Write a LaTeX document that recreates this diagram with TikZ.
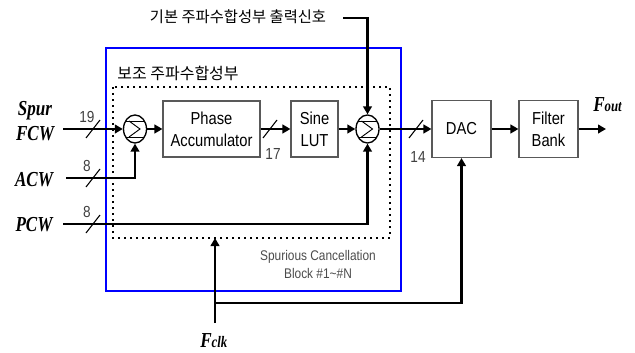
\documentclass[tikz,border=0pt]{standalone}
\usepackage{fontspec}
\setmainfont{Liberation Sans}
\newfontfamily\kofont{Noto Sans CJK KR}
\newfontfamily\narrowsf[FakeStretch=0.85]{Liberation Sans}
\newfontfamily\narrowrm[FakeStretch=0.8]{Liberation Serif}
\usetikzlibrary{shapes.geometric,arrows.meta}
\begin{document}
\begin{tikzpicture}[x=0.75pt,y=-0.75pt,
 bus/.style={line width=1.8pt},
 arr/.style={bus,-{Triangle[length=6pt,width=6.5pt]}},
 blk/.style={draw=black!65, line width=0.8pt, fill=white, align=center, inner sep=0pt,
   font=\narrowsf\fontsize{13}{16.5}\selectfont},
 sumnode/.style={draw, ellipse, line width=1pt, minimum width=17.25pt, minimum height=21pt, inner sep=0pt},
 lbl/.style={font=\narrowrm\bfseries\itshape\fontsize{16}{19}\selectfont, align=center, inner sep=0pt},
 num/.style={font=\narrowsf\fontsize{12}{12}\selectfont, text=black!75, inner sep=0pt},
 slash/.style={line width=0.8pt},
 ko/.style={font=\kofont\fontsize{11.5}{12}\selectfont, inner sep=0pt}
]
\useasboundingbox (0,0) rectangle (635,353);

% frames
\draw[blue, line width=1.5pt] (106,48) rectangle (401,291);
\draw[line width=1.2pt, dash pattern=on 1.2pt off 3.3pt] (113,87) rectangle (390,238);

% blocks
\node[blk, minimum width=72.75pt, minimum height=42pt] (acc) at (211.5,129) {Phase\\Accumulator};
\node[blk, minimum width=35.25pt, minimum height=42pt] (lut) at (314.5,129) {Sine\\LUT};
\node[blk, minimum width=44.25pt, minimum height=42.75pt] (dac) at (461.5,129) {DAC};
\node[blk, minimum width=44.25pt, minimum height=42.75pt] (fb) at (548.5,129) {Filter\\Bank};

% adders
\node[sumnode] (s1) at (135,129) {};
\node[sumnode] (s2) at (367.5,129) {};
\foreach \s in {s1,s2}{
  \draw[line width=0.7pt] ([shift={(-9.2,-8)}]\s.center) -- ([shift={(9.2,-8)}]\s.center);
  \draw[line width=0.7pt] ([shift={(-9.2,8)}]\s.center) -- ([shift={(9.2,8)}]\s.center);
  \draw[line width=0.7pt] ([shift={(-6,-8)}]\s.center) -- ([shift={(5,0)}]\s.center) -- ([shift={(-6,8)}]\s.center);
}

% labels
\node[ko] (top) at (238,17) {기본 주파수합성부 출력신호};
\node[ko, font=\kofont\fontsize{12}{12}\selectfont] (aux) at (178,73) {보조 주파수합성부};
\node[lbl] (spur) at (35,121) {Spur\\FCW};
\node[lbl] (acw) at (34,180) {ACW};
\node[lbl] (pcw) at (34,225) {PCW};
\node[lbl, anchor=base west] (fout) at (593,111.5) {F{\fontsize{12}{12}\selectfont out}};
\node[lbl, anchor=base west] (fclk) at (200,347) {F{\fontsize{12}{12}\selectfont clk}};
\node[align=center, text=black!70, font=\narrowsf\fontsize{10.5}{14}\selectfont, inner sep=0pt] (sc) at (318,264.5) {Spurious Cancellation\\Block \#1\textasciitilde\#N};

% connector end points
\coordinate (spurin) at (63,129);
\coordinate (acwin) at (66,178);
\coordinate (pcwin) at (63,224);
\coordinate (topin) at (343,18);
\coordinate (foutend) at (606,129);
\coordinate (clkin) at (215,323);
\coordinate (clkdot) at (215,238);
\coordinate (clkbr) at (215,303);

% connectors
\draw[arr] (spurin) -- (s1.west);
\draw[arr] (acwin) -| (s1.south);
\draw[arr] (pcwin) -| (s2.south);
\draw[arr] (s1.east) -- (acc.west);
\draw[arr] (acc.east) -- (lut.west);
\draw[arr] (lut.east) -- (s2.west);
\draw[arr] (s2.east) -- (dac.west);
\draw[arr] (dac.east) -- (fb.west);
\draw[arr] (fb.east) -- (foutend);
\draw[arr] (topin) -| (s2.north);
\draw[arr] (clkin) -- (clkdot);
\draw[arr] (clkbr) -| (dac.south);

% bus width marks
\foreach \x/\y in {93/129, 93/178, 93/224, 270/129, 416/129}{
  \draw[slash] (\x-7,\y+9) -- (\x+7,\y-9);
}
\node[num] (n19) at (87,117) {19};
\node[num] (n8a) at (87,166) {8};
\node[num] (n8b) at (87,212) {8};
\node[num] (n17) at (273,154) {17};
\node[num] (n14) at (418,157) {14};
\end{tikzpicture}
\end{document}
